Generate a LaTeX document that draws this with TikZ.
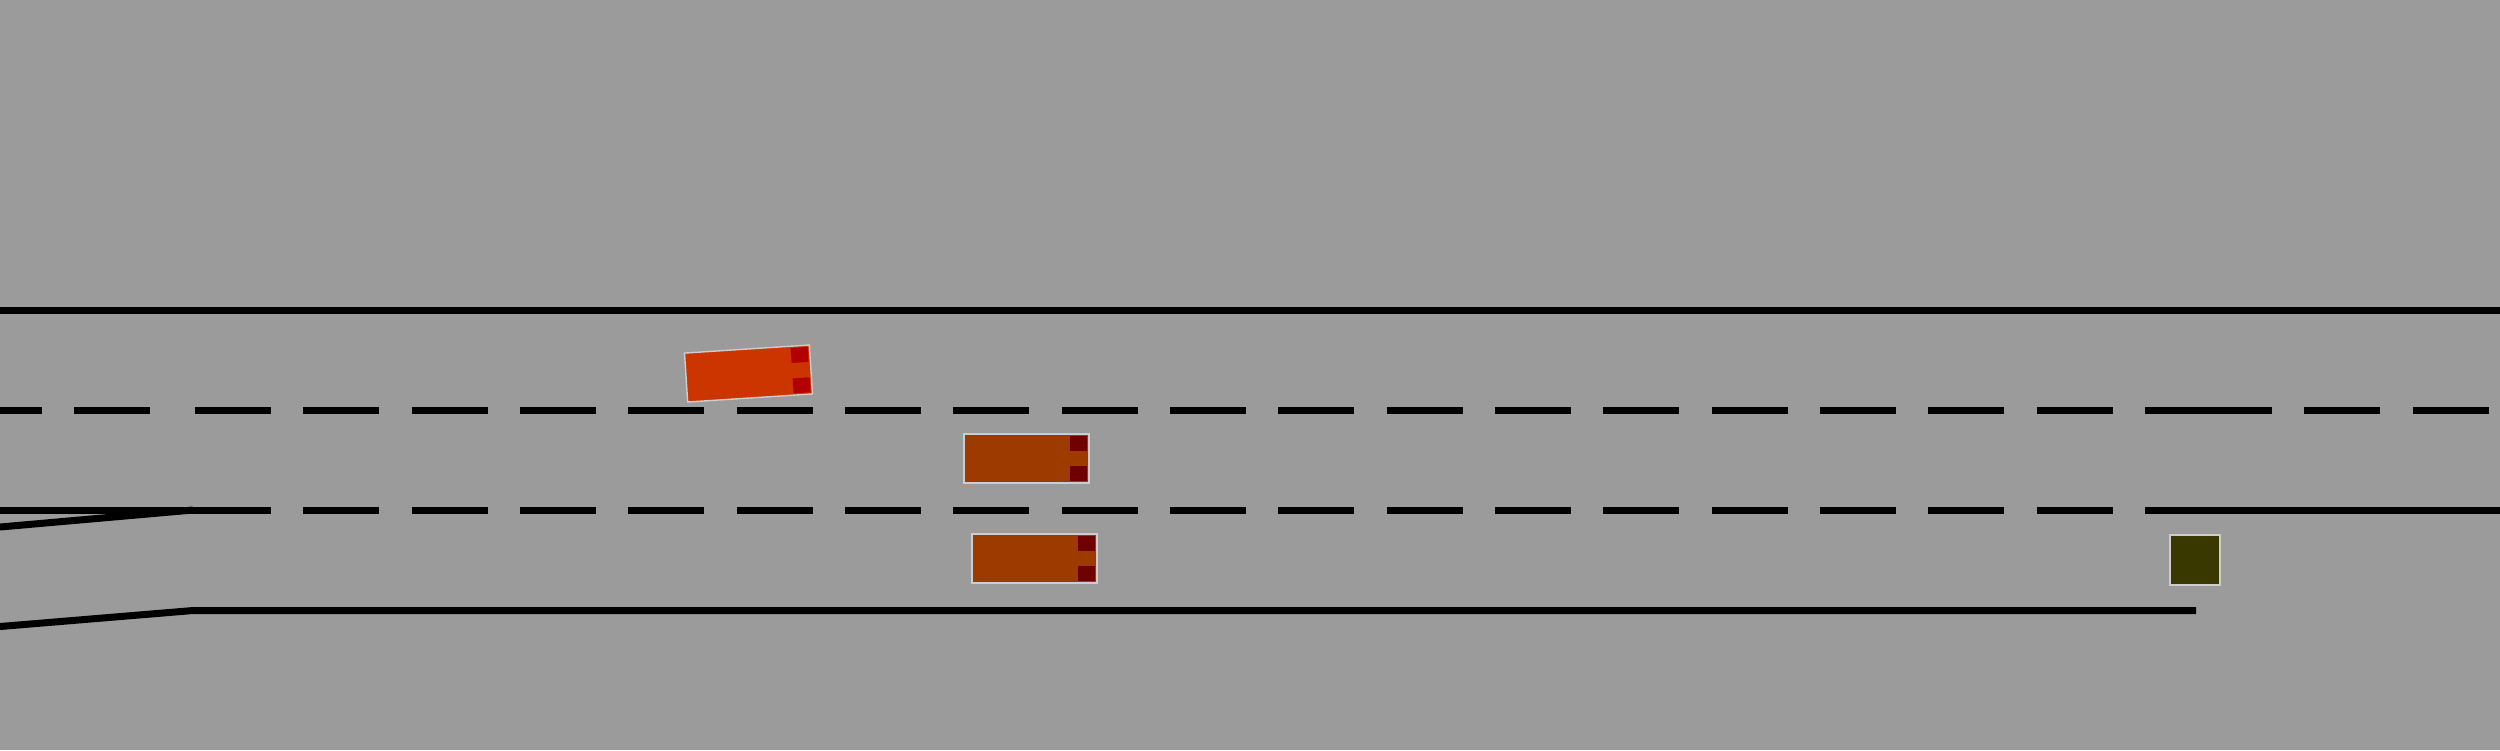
\documentclass[tikz,border=0pt]{standalone}
\usetikzlibrary{positioning}
\usepackage{xcolor}
\definecolor{asphalt}{RGB}{155, 155, 155}
\definecolor{rim}{RGB}{205, 205, 205}
\definecolor{egofill}{RGB}{204, 52, 0}
\definecolor{egolamp}{RGB}{178, 0, 0}
\definecolor{carfill}{RGB}{156, 58, 0}
\definecolor{carlamp}{RGB}{112, 0, 0}
\definecolor{blockfill}{RGB}{56, 56, 0}

\begin{document}
\begin{tikzpicture}[
        x=0.01cm, y=-0.01cm,
        lane/.style={line width=0.07cm},
        broken/.style={lane, dash pattern=on 0.76cm off 0.3227cm},
        car/.style={rectangle, draw=rim, line width=0.4pt, inner sep=0pt, outer sep=0pt,
                    minimum width=1.25cm, minimum height=0.49cm},
        lamp/.style={rectangle, inner sep=0pt, outer sep=0.018cm, anchor=north east,
                     minimum width=0.17cm, minimum height=0.15cm},
        blockbox/.style={rectangle, draw=rim, line width=0.4pt, inner sep=0pt,
                         minimum size=0.5cm, fill=blockfill},
    ]
        % road surface
        \fill[asphalt] (0,0) rectangle (2500,750);
        \useasboundingbox (0,0) rectangle (2500,750);

        \coordinate (merge) at (193,510);
        \coordinate (rampend) at (2196,610.5);

        % edges
        \draw[lane] (0,310) -- (2500,310);
        \draw[lane] (0,527) -- (merge);
        \draw[lane] (0,626.5) -- (193,610.5) -- (rampend);

        % lane markings
        \draw[broken, dash phase=0.34cm] (0,410) -- (182,410);
        \draw[broken] (195,410) -- (2196,410);
        \draw[broken] (2196,410) -- (2500,410);
        \draw[lane] (0,510) -- (195,510);
        \draw[broken] (195,510) -- (2196,510);
        \draw[lane] (2196,510) -- (2500,510);

        % vehicles
        \node[car, fill=egofill, rotate=3.7] (ego) at (748.5,373.5) {};
        \node[lamp, fill=egolamp, rotate=3.7] at (ego.north east) {};
        \node[lamp, fill=egolamp, rotate=3.7, anchor=south east] at (ego.south east) {};

        \node[car, fill=carfill] (mid) at (1026.5,458.5) {};
        \node[lamp, fill=carlamp] at (mid.north east) {};
        \node[lamp, fill=carlamp, anchor=south east] at (mid.south east) {};

        \node[car, fill=carfill] (ramp) at (1034.5,558.5) {};
        \node[lamp, fill=carlamp] at (ramp.north east) {};
        \node[lamp, fill=carlamp, anchor=south east] at (ramp.south east) {};

        \node[blockbox] (stop) at (2195,560) {};

    \end{tikzpicture}
\end{document}
